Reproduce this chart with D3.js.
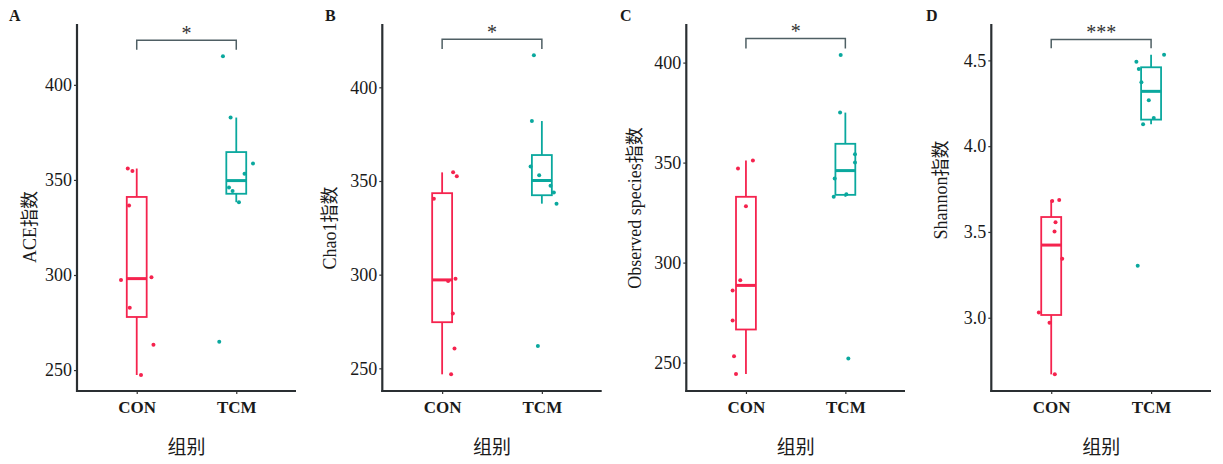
<!DOCTYPE html>
<html>
<head>
<meta charset="utf-8">
<script src="https://cdn.jsdelivr.net/npm/d3@7"></script>
<style>
  html, body { margin: 0; padding: 0; background: #fff; }
  svg { display: block; }
</style>
</head>
<body>
<svg id="chart" width="1223" height="464"></svg>
<script>
// ---------- data ----------
const categories = ["CON", "TCM"];
const panelLetters = ["A", "B", "C", "D"];
const yTitles = ["ACE指数", "Chao1指数", "Observed species指数", "Shannon指数"];
const xTitle = "组别";
const sigLabels = ["*", "*", "*", "***"];

const aceCON  = [356.0, 354.7, 336.5, 298.8, 297.4, 282.8, 263.3, 247.4];
const aceTCM  = [415.1, 382.8, 358.6, 353.3, 346.0, 344.2, 338.3, 264.9];
const chaoCON = [354.6, 352.5, 340.5, 297.8, 296.6, 279.3, 260.6, 246.8];
const chaoTCM = [417.1, 382.0, 357.8, 353.0, 347.5, 343.9, 337.9, 261.9];
const obsCON  = [351.0, 347.0, 328.2, 291.2, 286.0, 271.0, 253.2, 244.3];
const obsTCM  = [403.8, 375.0, 354.2, 350.0, 342.0, 332.9, 334.2, 252.0];
const shanCON = [3.680, 3.686, 3.556, 3.503, 3.344, 3.031, 2.971, 2.670];
const shanTCM = [4.533, 4.492, 4.449, 4.372, 4.267, 4.164, 4.127, 3.303];

// jitter offsets (category units)
const aceCONj  = [-0.090, -0.043, -0.077, 0.148, -0.158, -0.070, 0.168, 0.043];
const aceTCMj  = [-0.134, -0.057, 0.168, 0.083, -0.073, -0.037, 0.027, -0.171];
const chaoCONj = [0.110, 0.147, -0.083, 0.134, 0.060, 0.107, 0.124, 0.090];
const chaoTCMj = [-0.080, -0.100, -0.113, -0.027, 0.087, 0.120, 0.147, -0.040];
const obsCONj  = [0.070, -0.080, 0.000, -0.057, -0.134, -0.134, -0.120, -0.100];
const obsTCMj  = [-0.047, -0.053, 0.097, 0.097, -0.107, -0.117, 0.010, 0.030];
const shanCONj = [0.010, 0.080, 0.043, 0.033, 0.110, -0.124, -0.017, 0.036];
const shanTCMj = [0.130, -0.147, -0.123, -0.097, -0.023, 0.027, -0.080, -0.134];

const yTicksA = [250, 300, 350, 400];
const yTicksB = [250, 300, 350, 400];
const yTicksC = [250, 300, 350, 400];
const yTicksD = [3.0, 3.5, 4.0, 4.5];

const yDomains = [[239, 432], [237.9, 433.8], [235.8, 419.3], [2.573, 4.712]];
const bracketY = [423.5, 425.6, 412.0, 4.622];
const bracketTip = [418.4, 420.4, 407.0, 4.570];

// ---------- layout / style ----------
const layout = [
  { left: 77,    right: 296,  letterX: 9,   titleX: 30,  titleY: 227, fmt: d3.format("d") },
  { left: 382.3, right: 601.7, letterX: 325, titleX: 330, titleY: 228, fmt: d3.format("d") },
  { left: 686.3, right: 905,  letterX: 620, titleX: 635, titleY: 208, fmt: d3.format("d") },
  { left: 991.3, right: 1211, letterX: 926, titleX: 940.5, titleY: 190, fmt: d3.format(".1f") }
];
const plotTop = 24, plotBottom = 391;
const colors = { CON: "#f5234e", TCM: "#0aa89e" };
const serif = "'Liberation Serif', 'Times New Roman', 'DejaVu Serif', serif";
const cjk = "'Liberation Serif', 'Noto Sans CJK SC', serif";

const panels = [
  { groups: [aceCON, aceTCM],   jit: [aceCONj, aceTCMj],   ticks: yTicksA },
  { groups: [chaoCON, chaoTCM], jit: [chaoCONj, chaoTCMj], ticks: yTicksB },
  { groups: [obsCON, obsTCM],   jit: [obsCONj, obsTCMj],   ticks: yTicksC },
  { groups: [shanCON, shanTCM], jit: [shanCONj, shanTCMj], ticks: yTicksD }
];

const svg = d3.select("#chart");

function boxStats(vals) {
  const s = vals.slice().sort(d3.ascending);
  const q1 = d3.quantile(s, 0.25), med = d3.quantile(s, 0.5), q3 = d3.quantile(s, 0.75);
  const iqr = q3 - q1;
  const lo = d3.min(s.filter(v => v >= q1 - 1.5 * iqr));
  const hi = d3.max(s.filter(v => v <= q3 + 1.5 * iqr));
  return { q1, med, q3, lo, hi };
}

panels.forEach((p, i) => {
  const L = layout[i];
  const x = d3.scaleLinear().domain([0.4, 2.6]).range([L.left, L.right]);
  const y = d3.scaleLinear().domain(yDomains[i]).range([plotBottom, plotTop]);
  const g = svg.append("g");

  // y axis
  const yAxis = d3.axisLeft(y).tickValues(p.ticks).tickFormat(L.fmt).tickSize(3).tickPadding(2);
  const ya = g.append("g").attr("transform", `translate(${L.left},0)`).call(yAxis);
  ya.select(".domain").remove();
  ya.selectAll(".tick line").attr("stroke", "#333").attr("stroke-width", 1.2);
  ya.selectAll(".tick text").attr("font-family", serif).attr("font-size", 18).attr("fill", "#1a1a1a");

  // x axis
  const xAxis = d3.axisBottom(x).tickValues([1, 2]).tickFormat((d) => categories[d - 1]).tickSize(3).tickPadding(7);
  const xa = g.append("g").attr("transform", `translate(0,${plotBottom})`).call(xAxis);
  xa.select(".domain").remove();
  xa.selectAll(".tick line").attr("stroke", "#333").attr("stroke-width", 1.2);
  xa.selectAll(".tick text").attr("font-family", serif).attr("font-size", 17)
    .attr("font-weight", "bold").attr("fill", "#1a1a1a");

  // axis lines
  g.append("line").attr("x1", L.left).attr("x2", L.left).attr("y1", plotTop).attr("y2", plotBottom + 1)
    .attr("stroke", "#2a2f32").attr("stroke-width", 2.2);
  g.append("line").attr("x1", L.left - 1).attr("x2", L.right).attr("y1", plotBottom).attr("y2", plotBottom)
    .attr("stroke", "#2a2f32").attr("stroke-width", 2.2);

  // boxes
  p.groups.forEach((vals, k) => {
    const c = colors[categories[k]];
    const st = boxStats(vals);
    const cx = x(k + 1), hw = x(k + 1 + 0.1) - cx;
    const bg = g.append("g").attr("stroke", c).attr("fill", "none");
    bg.append("line").attr("x1", cx).attr("x2", cx).attr("y1", y(st.hi)).attr("y2", y(st.q3)).attr("stroke-width", 1.8);
    bg.append("line").attr("x1", cx).attr("x2", cx).attr("y1", y(st.q1)).attr("y2", y(st.lo)).attr("stroke-width", 1.8);
    bg.append("rect").attr("x", cx - hw).attr("width", 2 * hw)
      .attr("y", y(st.q3)).attr("height", y(st.q1) - y(st.q3)).attr("stroke-width", 1.8).attr("fill", "#fff");
    bg.append("line").attr("x1", cx - hw).attr("x2", cx + hw).attr("y1", y(st.med)).attr("y2", y(st.med)).attr("stroke-width", 3);

    // jitter points
    g.append("g").selectAll("circle").data(vals).join("circle")
      .attr("cx", (d, j) => x(k + 1 + p.jit[k][j]))
      .attr("cy", d => y(d))
      .attr("r", 2)
      .attr("fill", c);
  });

  // significance bracket
  const by = y(bracketY[i]), bt = y(bracketTip[i]);
  g.append("path")
    .attr("d", `M${x(1)},${bt}V${by}H${x(2)}V${bt}`)
    .attr("fill", "none").attr("stroke", "#4f5f64").attr("stroke-width", 1.5);
  g.append("text").attr("x", (x(1) + x(2)) / 2).attr("y", by - 0.5)
    .attr("text-anchor", "middle").attr("font-family", serif).attr("font-size", 20)
    .attr("fill", "#333").text(sigLabels[i]);

  // titles
  g.append("text").attr("transform", `translate(${L.titleX},${L.titleY}) rotate(-90)`)
    .attr("text-anchor", "middle").attr("dominant-baseline", "central")
    .attr("font-family", cjk).attr("font-size", 18).attr("fill", "#1a1a1a").text(yTitles[i]);
  g.append("text").attr("x", (L.left + L.right) / 2).attr("y", 454)
    .attr("text-anchor", "middle").attr("font-family", cjk).attr("font-size", 19)
    .attr("fill", "#1a1a1a").text(xTitle);
  g.append("text").attr("x", L.letterX).attr("y", 21)
    .attr("font-family", serif).attr("font-size", 16).attr("font-weight", "bold")
    .attr("fill", "#1a1a1a").text(panelLetters[i]);
});
</script>
</body>
</html>
